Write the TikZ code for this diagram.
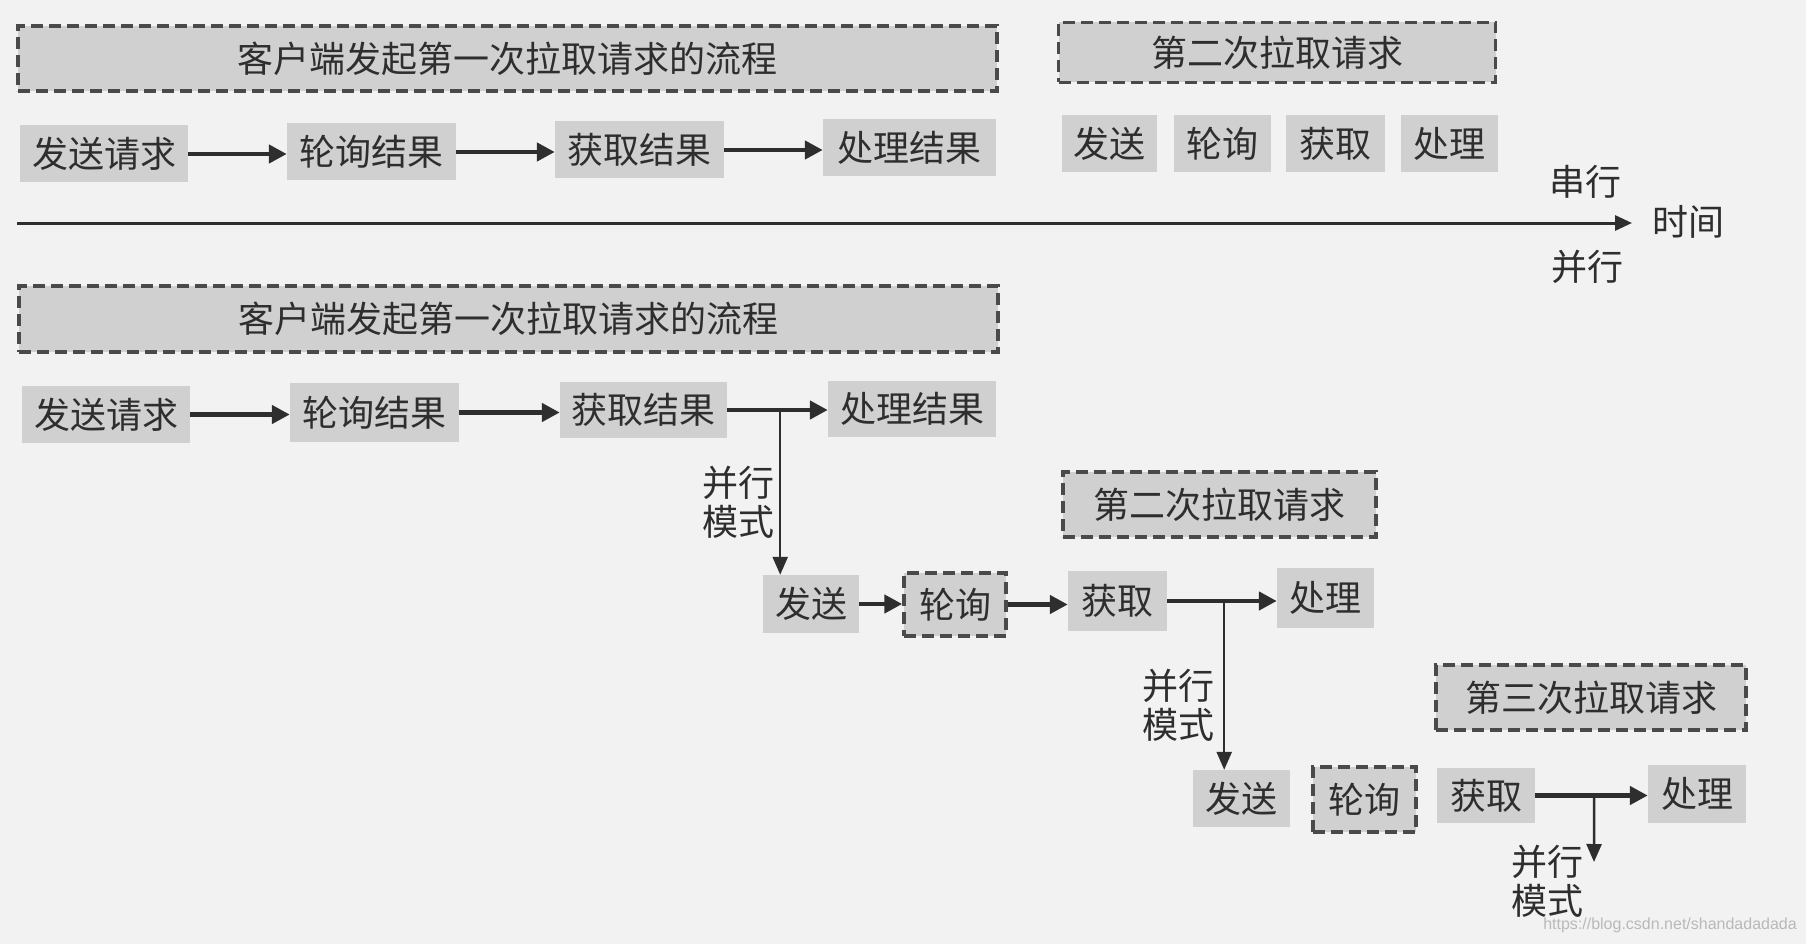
\documentclass[tikz,border=0pt]{standalone}
\usepackage{fontspec}
\setmainfont{Noto Sans CJK SC}
\newfontfamily\wmfont{Liberation Sans}
\usetikzlibrary{arrows.meta}
\definecolor{bg}{HTML}{F2F2F2}
\definecolor{boxfill}{HTML}{D0D0D0}
\definecolor{ink}{HTML}{2E2E2E}
\definecolor{dashink}{HTML}{4A4A4A}
\begin{document}
\begin{tikzpicture}[x=1pt,y=-1pt,
  solidbox/.style={fill=boxfill, inner sep=0pt, text=ink, font=\fontsize{36}{39}\selectfont},
  dashbox/.style={solidbox, draw=dashink, line width=3.5pt, dash pattern=on 12pt off 6pt},
  conn/.style={draw=ink, line width=4.5pt, -{Triangle[length=18pt,width=18pt]}},
  axisconn/.style={draw=ink, line width=3pt, -{Triangle[length=17pt,width=15pt]}},
  vconn/.style={draw=ink, line width=2.5pt, -{Triangle[length=18pt,width=15pt]}},
  lbl/.style={text=ink, inner sep=0pt, align=center, font=\fontsize{36}{39}\selectfont}]
\useasboundingbox (0,0) rectangle (1806,944);
\fill[bg] (0,0) rectangle (1806,944);

% ---------- serial part ----------
\node[dashbox, minimum width=979pt, minimum height=65pt] (t1) at (507.5,58.5) {客户端发起第一次拉取请求的流程};
\node[dashbox, minimum width=437pt, minimum height=60pt] (t2) at (1277,52.5) {第二次拉取请求};

\node[solidbox, minimum width=168pt, minimum height=57pt] (r1a) at (104,154) {发送请求};
\node[solidbox, minimum width=169pt, minimum height=57pt] (r1b) at (371.5,152) {轮询结果};
\node[solidbox, minimum width=169pt, minimum height=57pt] (r1c) at (639.5,150) {获取结果};
\node[solidbox, minimum width=173pt, minimum height=57pt] (r1d) at (909.5,148) {处理结果};
\draw[conn] (r1a.east) -- (r1a.east -| r1b.west);
\draw[conn] (r1b.east) -- (r1b.east -| r1c.west);
\draw[conn] (r1c.east) -- (r1c.east -| r1d.west);

\node[solidbox, minimum width=95pt, minimum height=57pt] (r1e) at (1109.5,144) {发送};
\node[solidbox, minimum width=97pt, minimum height=57pt] (r1f) at (1222.5,144) {轮询};
\node[solidbox, minimum width=99pt, minimum height=57pt] (r1g) at (1335.5,144) {获取};
\node[solidbox, minimum width=97pt, minimum height=57pt] (r1h) at (1449.5,144) {处理};

% ---------- time axis ----------
\node[lbl] (serial) at (1585,182) {串行};
\node[lbl] (time) at (1688,222) {时间};
\node[lbl] (parallel) at (1587,267) {并行};
\coordinate (ax0) at (17,223);
\coordinate (ax1) at (1632,223);
\draw[axisconn] (ax0) -- (ax1);

% ---------- parallel part ----------
\node[dashbox, minimum width=979pt, minimum height=66pt] (s2) at (508.5,319) {客户端发起第一次拉取请求的流程};

\node[solidbox, minimum width=168pt, minimum height=57pt] (r2a) at (106,414.5) {发送请求};
\node[solidbox, minimum width=169pt, minimum height=59pt] (r2b) at (374.5,412.5) {轮询结果};
\node[solidbox, minimum width=167pt, minimum height=56pt] (r2c) at (643.5,410) {获取结果};
\node[solidbox, minimum width=168pt, minimum height=56pt] (r2d) at (912,409) {处理结果};
\draw[conn] (r2a.east) -- (r2a.east -| r2b.west);
\draw[conn] (r2b.east) -- (r2b.east -| r2c.west);
\draw[conn] (r2c.east) -- (r2c.east -| r2d.west);
\path (r2c.east) ++(53,0) coordinate (b1);

\node[dashbox, minimum width=313pt, minimum height=65pt] (t3) at (1219.5,504.5) {第二次拉取请求};
\node[lbl] (m1) at (738,502) {并行\\模式};

\node[solidbox, minimum width=96pt, minimum height=58pt] (r3a) at (811,604) {发送};
\node[dashbox, minimum width=102pt, minimum height=63pt] (r3b) at (955,604.5) {轮询};
\node[solidbox, minimum width=99pt, minimum height=60pt] (r3c) at (1117.5,601) {获取};
\node[solidbox, minimum width=97pt, minimum height=60pt] (r3d) at (1325.5,598) {处理};
\draw[vconn] (b1) -- (b1 |- r3a.north);
\draw[conn] (r3a.east) -- (r3a.east -| r3b.west);
\draw[conn] (r3b.east) -- (r3b.east -| r3c.west);
\draw[conn] (r3c.east) -- (r3c.east -| r3d.west);
\path (r3c.east) ++(57,0) coordinate (b2);

\node[dashbox, minimum width=310pt, minimum height=65pt] (t4) at (1591,697.5) {第三次拉取请求};
\node[lbl] (m2) at (1178,705) {并行\\模式};

\node[solidbox, minimum width=97pt, minimum height=57pt] (r4a) at (1241.5,798.5) {发送};
\node[dashbox, minimum width=103pt, minimum height=65pt] (r4b) at (1364.5,799.5) {轮询};
\node[solidbox, minimum width=98pt, minimum height=55pt] (r4c) at (1486,795.5) {获取};
\node[solidbox, minimum width=98pt, minimum height=58pt] (r4d) at (1697,794) {处理};
\draw[vconn] (b2) -- (b2 |- r4a.north);
\draw[conn] (r4c.east) -- (r4c.east -| r4d.west);
\path (r4c.east) ++(59,0) coordinate (b3);
\coordinate (b3end) at (1594,862);
\draw[vconn] (b3) -- (b3end);
\node[lbl] (m3) at (1547,881) {并行\\模式};

\node[text=gray!55, inner sep=0pt, font=\wmfont\fontsize{16}{18}\selectfont] (wm) at (1670,925) {https://blog.csdn.net/shandadadada};
\end{tikzpicture}
\end{document}
